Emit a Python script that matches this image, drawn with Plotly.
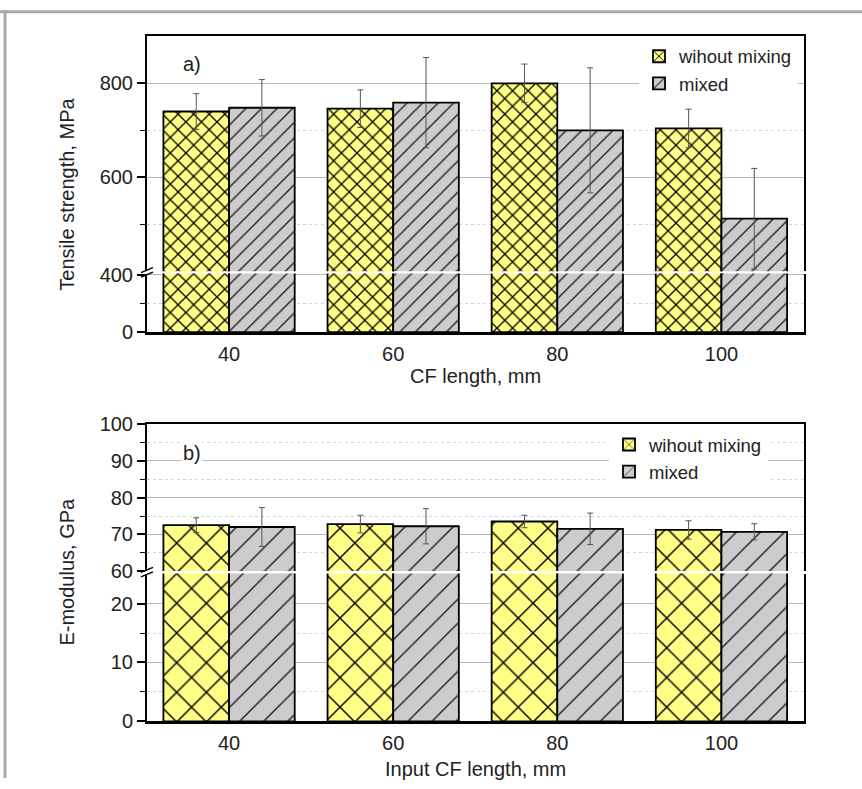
import plotly.graph_objects as go

W, H = 862, 789

# ---------------- data ----------------
categories = ["40", "60", "80", "100"]
series_names = ["wihout mixing", "mixed"]

tensile_wo = [740, 746, 800, 704]
tensile_wo_err = [38, 40, 41, 41]
tensile_mx = [748, 759, 700, 512]
tensile_mx_err = [60, 96, 133, 107]

emod_wo = [72.5, 72.8, 73.5, 71.2]
emod_wo_err = [2.0, 2.4, 1.7, 2.5]
emod_mx = [72.0, 72.2, 71.5, 70.7]
emod_mx_err = [5.3, 4.8, 4.3, 2.2]

a_upper_ticks = [600, 800]
a_upper_minor = [500, 700]
a_lower_ticks = [0, 400]
a_lower_minor = [200]
b_upper_ticks = [60, 70, 80, 90, 100]
b_upper_minor = [65, 75, 85, 95]
b_lower_ticks = [0, 10, 20]
b_lower_minor = [5, 15]

# ---------------- style ----------------
FONT = "Liberation Sans, Arial, sans-serif"
FS = 20
LFS = 18.5
YELLOW = "#FFFF88"
GREY = "#CCCCCC"
GRID = "#b8b8b8"
MINOR_GRID = "#d4d4d4"
TXT = "#222222"

# the capture maps page y to screen y as 8.8 + 0.975*y; positions below are
# screen positions, converted back here
OFF, SC = 8.8, 0.975


def py(p):
    return 1 - ((p - OFF) / SC) / H


def px(p):
    return p / W


xdom = [px(147), px(803.5)]

fig = go.Figure()


def add_pair(xa, ya, wo, wo_err, mx, mx_err, legend, show, pat_x, pat_s):
    for name, vals, errs, col, shape, (ps, sol), fg in [
        (series_names[0], wo, wo_err, YELLOW, "x", pat_x, "#000000"),
        (series_names[1], mx, mx_err, GREY, "/", pat_s, "#1a1a1a"),
    ]:
        fig.add_trace(go.Bar(
            x=categories, y=vals, name=name, xaxis=xa, yaxis=ya,
            legend=legend, showlegend=show,
            marker=dict(color=col, line=dict(color="black", width=1.8),
                        pattern=dict(shape=shape, fgcolor=fg, bgcolor=col,
                                     size=ps, solidity=sol, fillmode="replace")),
            error_y=dict(type="data", array=errs, visible=show, color="#555555",
                         thickness=1, width=3),
        ))


# plot a: lower (x, y), upper (x2, y2)
add_pair("x", "y", tensile_wo, tensile_wo_err, tensile_mx, tensile_mx_err, "legend", False,
         (11, 0.22), (11, 0.12))
add_pair("x2", "y2", tensile_wo, tensile_wo_err, tensile_mx, tensile_mx_err, "legend", True,
         (11, 0.22), (11, 0.12))
# plot b: lower (x3, y3), upper (x4, y4)
add_pair("x3", "y3", emod_wo, emod_wo_err, emod_mx, emod_mx_err, "legend2", False,
         (21, 0.13), (17, 0.08))
add_pair("x4", "y4", emod_wo, emod_wo_err, emod_mx, emod_mx_err, "legend2", True,
         (21, 0.13), (17, 0.08))

tickfont = dict(family=FONT, size=FS, color=TXT)

yax_common = dict(
    showline=True, linecolor="black", linewidth=2, mirror=True,
    ticks="outside", ticklen=8, tickwidth=1.5, tickcolor="black",
    tickfont=tickfont, showgrid=True, gridcolor=GRID, gridwidth=1,
    zeroline=False, tickmode="array", fixedrange=True,
)


def minor(vals):
    return dict(tickmode="array", tickvals=vals, ticks="outside", ticklen=5,
                tickwidth=1.2, tickcolor="black", showgrid=True,
                gridcolor=MINOR_GRID, griddash="dot", gridwidth=1)


xax_bottom = dict(
    domain=xdom, type="category", categoryorder="array", categoryarray=categories,
    range=[-0.5, 3.5], showline=True, linecolor="black", linewidth=2.5,
    ticks="", tickfont=tickfont, ticklabelstandoff=2, showgrid=False, zeroline=False,
    fixedrange=True,
)
xax_top = dict(
    domain=xdom, type="category", categoryorder="array", categoryarray=categories,
    range=[-0.5, 3.5], showline=True, linecolor="black", linewidth=2,
    ticks="", showticklabels=False, showgrid=False, zeroline=False, side="top",
    fixedrange=True,
)

legfont = dict(family=FONT, size=LFS, color=TXT)

fig.update_layout(
    width=W, height=H,
    margin=dict(l=0, r=0, t=0, b=0),
    paper_bgcolor="white", plot_bgcolor="rgba(0,0,0,0)",
    barmode="group", bargap=0.2, bargroupgap=0,
    font=dict(family=FONT, size=FS, color=TXT),
    xaxis=dict(anchor="y", **xax_bottom),
    yaxis=dict(domain=[py(331), py(272.2)], range=[0, 409],
               tickvals=a_lower_ticks, minor=minor(a_lower_minor), **yax_common),
    xaxis2=dict(anchor="y2", **xax_top),
    yaxis2=dict(domain=[py(269.9), py(34.2)], range=[400, 900],
                tickvals=a_upper_ticks, minor=minor(a_upper_minor), **yax_common),
    xaxis3=dict(anchor="y3", **xax_bottom),
    yaxis3=dict(domain=[py(721.3), py(573)], range=[0, 25.1],
                tickvals=b_lower_ticks, minor=minor(b_lower_minor), **yax_common),
    xaxis4=dict(anchor="y4", **xax_top),
    yaxis4=dict(domain=[py(570.5), py(423.3)], range=[60, 100],
                tickvals=b_upper_ticks, minor=minor(b_upper_minor), **yax_common),
    legend=dict(x=px(639), y=py(35.6), xanchor="left", yanchor="top",
                bgcolor="white", borderwidth=0, font=legfont,
                tracegroupgap=0, itemwidth=30),
    legend2=dict(x=px(609), y=py(425), xanchor="left", yanchor="top",
                 bgcolor="white", borderwidth=0, font=legfont,
                 tracegroupgap=0, itemwidth=30),
    showlegend=True,
)

annotations = [
    dict(text="a)", x=px(192), y=py(62), bgcolor="white"),
    dict(text="b)", x=px(192), y=py(452), bgcolor="white"),
    dict(text="Tensile strength, MPa", x=px(67), y=py(193), textangle=-90),
    dict(text="E-modulus, GPa", x=px(67), y=py(571), textangle=-90),
    dict(text="CF length, mm", x=px(475.5), y=py(375)),
    dict(text="Input CF length, mm", x=px(475.5), y=py(769)),
]
for a in annotations:
    fig.add_annotation(xref="paper", yref="paper", showarrow=False,
                       xanchor="center", yanchor="middle",
                       font=dict(family=FONT, size=FS, color=TXT), **a)

# break marks on the left axis
for yb in [268.7, 273.2, 569.3, 573.8]:
    fig.add_shape(type="line", xref="paper", yref="paper",
                  x0=px(141), y0=py(yb + 2.5), x1=px(153), y1=py(yb - 2.5),
                  line=dict(color="black", width=1.5))

# outer grey frame
fig.add_shape(type="line", xref="paper", yref="paper", x0=0, x1=1,
              y0=py(9.5), y1=py(9.5), line=dict(color="#aaaaaa", width=3))
fig.add_shape(type="line", xref="paper", yref="paper", x0=px(5), x1=px(5),
              y0=0, y1=py(8), line=dict(color="#aaaaaa", width=3))

post = (
    "var gd=document.getElementById('{plot_id}');"
    "gd.style.position='absolute';gd.style.left='0px';gd.style.top='0px';"
    "document.body.style.margin='0';document.body.style.overflow='hidden';"
    "document.documentElement.style.overflow='hidden';"
)
fig.write_html("out.html", config={"displayModeBar": False}, post_script=post)
